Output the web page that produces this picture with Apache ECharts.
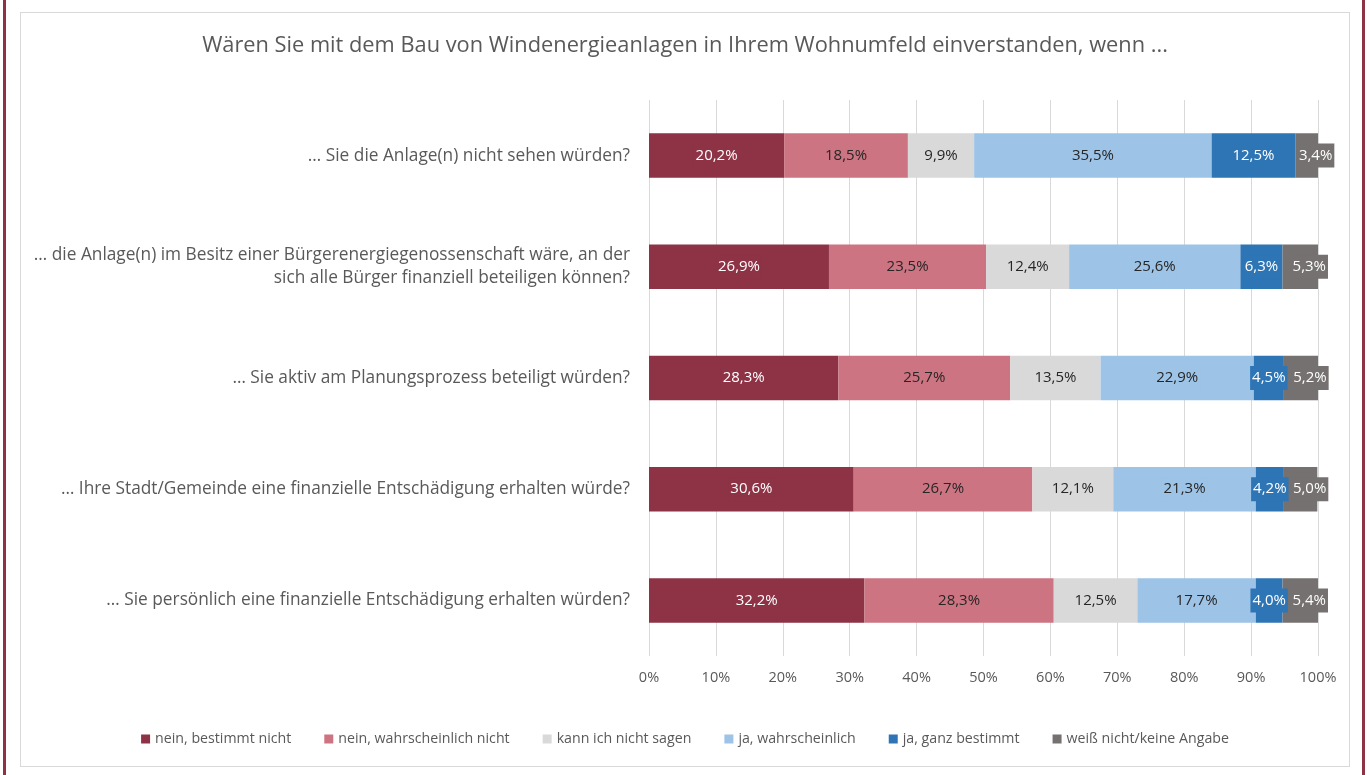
<!DOCTYPE html>
<html>
<head>
<meta charset="utf-8">
<script src="https://cdn.jsdelivr.net/npm/echarts@6/dist/echarts.min.js"></script>
<style>
  html, body { margin: 0; padding: 0; background: #fff; }
  #wrap { position: relative; width: 1370px; height: 775px; overflow: hidden; }
  #edgeL { position: absolute; left: 3px; top: 0; width: 3px; height: 775px; background: #8E3246; }
  #edgeR { position: absolute; left: 1362px; top: 0; width: 3px; height: 775px; background: #8E3246; }
  #frame { position: absolute; left: 20px; top: 12px; width: 1328px; height: 753px; border: 1px solid #d9d9d9; }
  #chart { position: absolute; left: 0; top: 0; width: 1370px; height: 775px; }
</style>
</head>
<body>
<div id="wrap">
  <div id="edgeL"></div>
  <div id="edgeR"></div>
  <div id="frame"></div>
  <div id="chart"></div>
</div>
<script>
const titleText = 'Wären Sie mit dem Bau von Windenergieanlagen in Ihrem Wohnumfeld einverstanden, wenn ...'

const categories = [
  '… Sie die Anlage(n) nicht sehen würden?',
  '… die Anlage(n) im Besitz einer Bürgerenergiegenossenschaft wäre, an der\nsich alle Bürger finanziell beteiligen können?',
  '… Sie aktiv am Planungsprozess beteiligt würden?',
  '… Ihre Stadt/Gemeinde eine finanzielle Entschädigung erhalten würde?',
  '… Sie persönlich eine finanzielle Entschädigung erhalten würden?'
]

const seriesNames = [
  'nein, bestimmt nicht',
  'nein, wahrscheinlich nicht',
  'kann ich nicht sagen',
  'ja, wahrscheinlich',
  'ja, ganz bestimmt',
  'weiß nicht/keine Angabe'
]

const neinBestimmt = [20.2, 26.9, 28.3, 30.6, 32.2]
const neinWahrscheinlich = [18.5, 23.5, 25.7, 26.7, 28.3]
const kannNicht = [9.9, 12.4, 13.5, 12.1, 12.5]
const jaWahrscheinlich = [35.5, 25.6, 22.9, 21.3, 17.7]
const jaBestimmt = [12.5, 6.3, 4.5, 4.2, 4.0]
const weissNicht = [3.4, 5.3, 5.2, 5.0, 5.4]

const xTicks = [0, 10, 20, 30, 40, 50, 60, 70, 80, 90, 100]

const colors = ['#8E3246', '#CD7482', '#D9D9D9', '#9DC3E6', '#2E75B6', '#767171']
const labelColors = ['#ffffff', '#262626', '#262626', '#262626', '#ffffff', '#ffffff']
const values = [neinBestimmt, neinWahrscheinlich, kannNicht, jaWahrscheinlich, jaBestimmt, weissNicht]

const font = '"Open Sans", sans-serif'

const chart = echarts.init(document.getElementById('chart'))

const series = seriesNames.map((name, i) => ({
  name: name,
  type: 'bar',
  stack: 'total',
  barWidth: '40%',
  data: values[i],
  itemStyle: { color: colors[i] },
  label: {
    show: true,
    position: 'inside',
    // last (narrow) segment label sits a bit to the right, like the original
    offset: i === seriesNames.length - 1 ? [9, 0] : [0, 0],
    color: labelColors[i],
    fontFamily: font,
    fontSize: 15,
    backgroundColor: colors[i],
    padding: [5, 2, 4, 2],
    formatter: p => p.value.toFixed(1).replace('.', ',') + '%'
  },
  emphasis: { disabled: true }
}))

chart.setOption({
  animation: false,
  color: colors,
  title: {
    text: titleText,
    left: 'center',
    top: 30,
    textStyle: { color: '#595959', fontSize: 21.8, fontWeight: 'normal', fontFamily: font }
  },
  legend: {
    bottom: 24,
    left: 'center',
    itemWidth: 9,
    itemHeight: 9,
    itemGap: 33,
    icon: 'rect',
    textStyle: { color: '#595959', fontSize: 14.2, fontFamily: font }
  },
  grid: { left: 649, right: 52, top: 100, bottom: 119, containLabel: false },
  xAxis: {
    type: 'value',
    min: xTicks[0],
    max: xTicks[xTicks.length - 1],
    interval: 10,
    axisLine: { show: false },
    axisTick: { show: false },
    splitLine: { lineStyle: { color: '#d9d9d9' } },
    axisLabel: { color: '#595959', fontSize: 14.5, fontFamily: font, margin: 14, formatter: v => v + '%' }
  },
  yAxis: {
    type: 'category',
    inverse: true,
    data: categories,
    axisLine: { show: false },
    axisTick: { show: false },
    axisLabel: { color: '#595959', fontSize: 17.3, fontFamily: font, margin: 19, lineHeight: 23, align: 'right' }
  },
  series: series
})
</script>
</body>
</html>
